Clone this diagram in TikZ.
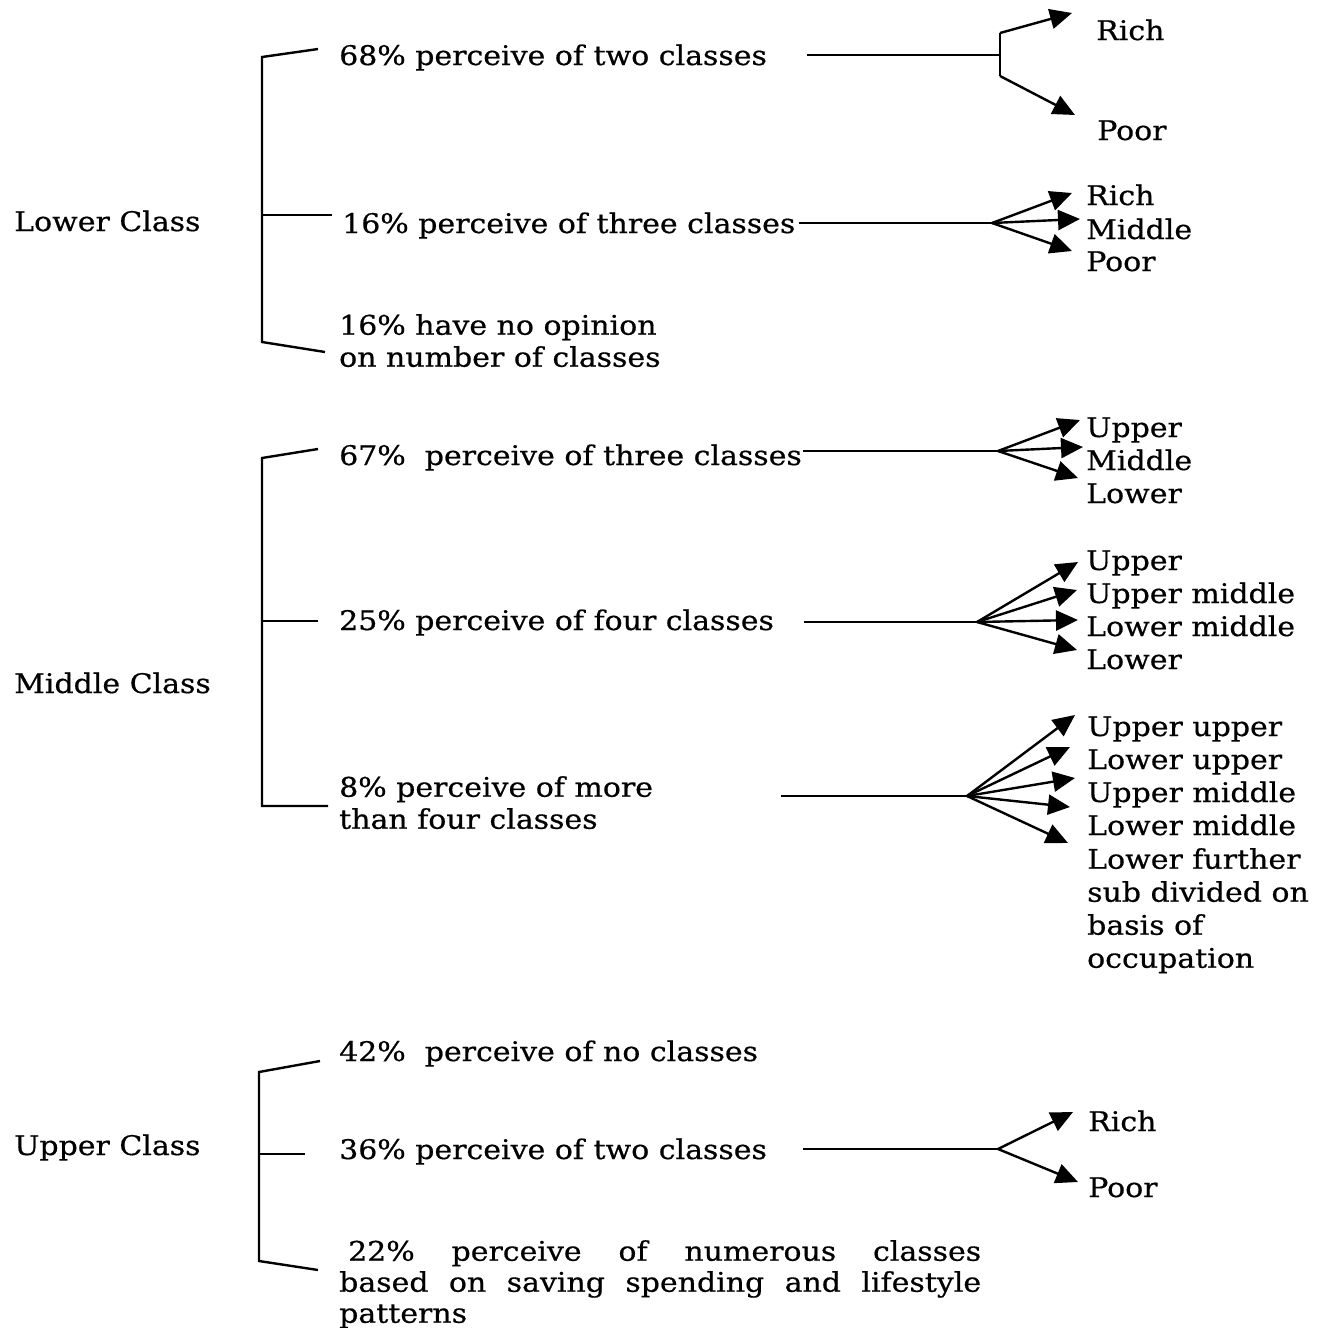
\documentclass[tikz,border=0pt]{standalone}
\usepackage{fontspec}
\setmainfont{DejaVu Serif}[FakeStretch=1.11,FakeBold=0.6]
\usetikzlibrary{arrows.meta}

\begin{document}
\begin{tikzpicture}[x=0.5pt,y=-0.5pt,line width=1.2pt,
        font=\fontsize{13.5}{16}\selectfont,
        txt/.style = {anchor=base west,inner sep=0pt},
        multi/.style = {anchor=north west,inner sep=0pt,align=left},
        arrow/.style = {line width=1.2pt,-{Triangle[length=11pt,width=10pt]}}]
    \useasboundingbox (0,0) rectangle (1334,1328);

    % the three classes
    \node[txt] (lower)  at (13,231)  {Lower Class};
    \node[txt] (middle) at (13,693)  {Middle Class};
    \node[txt] (upper)  at (13,1155) {Upper Class};

    % lower class
    \node[txt] (l1) at (338,65) {68\% perceive of two classes};
    \node[txt] (l2) at (341,233) {16\% perceive of three classes};
    \node[multi] (l3) at (338,313) {16\% have no opinion\\on number of classes};
    \node[txt] (l1a) at (1095,40)  {Rich};
    \node[txt] (l1b) at (1096,140) {Poor};
    \node[txt] (l2a) at (1085,205) {Rich};
    \node[txt] (l2b) at (1085,239) {Middle};
    \node[txt] (l2c) at (1085,271) {Poor};

    \coordinate (lt) at (262,57);
    \coordinate (lm) at (262,215);
    \coordinate (lb) at (262,342);
    \draw ([shift={(-20,-16)}]l1.base west) -- (lt) -- (lb)
        -- ([shift={(-13,39)}]l3.north west);
    \draw (lm) -- ([shift={(-9,-18)}]l2.base west);

    \coordinate (fl1) at (1000,55);
    \draw (fl1 -| l1.east) ++(39,0) -- (fl1);
    \draw ([yshift=11pt]fl1) coordinate (fl1a) -- ([yshift=-10.5pt]fl1) coordinate (fl1b);
    \draw[arrow] (fl1a) -- ([shift={(-23,-27)}]l1a.base west);
    \draw[arrow] (fl1b) -- ([shift={(-21,-25)}]l1b.base west);

    \coordinate (fl2) at (992,223);
    \draw (fl2 -| l2.east) ++(2,0) -- (fl2);
    \foreach \leaf/\dx/\dy in {l2a/-13/-12, l2b/-5/-20, l2c/-13/-20}
        \draw[arrow] (fl2) -- ([shift={(\dx,\dy)}]\leaf.base west);

    % middle class
    \node[txt] (m1) at (338,465) {67\%\ \ perceive of three classes};
    \node[txt] (m2) at (338,630) {25\% perceive of four classes};
    \node[multi] (m3) at (338,775) {8\% perceive of more\\than four classes};
    \node[txt] (m1a) at (1085,437) {Upper};
    \node[txt] (m1b) at (1085,470) {Middle};
    \node[txt] (m1c) at (1085,503) {Lower};
    \node[txt] (m2a) at (1085,570) {Upper};
    \node[txt] (m2b) at (1085,603) {Upper middle};
    \node[txt] (m2c) at (1085,636) {Lower middle};
    \node[txt] (m2d) at (1085,669) {Lower};
    \node[txt] (m3a) at (1086,736) {Upper upper};
    \node[txt] (m3b) at (1086,769) {Lower upper};
    \node[txt] (m3c) at (1086,802) {Upper middle};
    \node[txt] (m3d) at (1086,835) {Lower middle};
    \node[multi,font=\fontsize{13.5}{16.5}\selectfont] (m3e) at (1086,847)
        {Lower further\\sub divided on\\basis of\\occupation};

    \coordinate (mt) at (262,458);
    \coordinate (mm) at (262,621);
    \coordinate (mb) at (262,806);
    \draw ([shift={(-20,-16)}]m1.base west) -- (mt) -- (mb)
        -- ([shift={(-10,31)}]m3.north west);
    \draw (mm) -- ([shift={(-20,-9)}]m2.base west);

    \coordinate (fm1) at (998,451);
    \draw (fm1 -| m1.east) -- (fm1);
    \foreach \leaf/\dx/\dy in {m1a/-5/-17, m1b/-2/-23, m1c/-7/-25}
        \draw[arrow] (fm1) -- ([shift={(\dx,\dy)}]\leaf.base west);

    \coordinate (fm2) at (977,622);
    \draw (fm2 -| m2.east) ++(29,0) -- (fm2);
    \foreach \leaf/\dx/\dy in {m2a/-7/-8, m2b/-8/-13, m2c/-7/-16, m2d/-8/-19}
        \draw[arrow] (fm2) -- ([shift={(\dx,\dy)}]\leaf.base west);

    \coordinate (fm3) at (967,796);
    \draw (fm3 -| m3.east) ++(127,0) -- (fm3);
    \foreach \leaf/\dx/\dy in {m3a/-11/-21, m3b/-16/-22, m3c/-11/-24, m3d/-16/-28}
        \draw[arrow] (fm3) -- ([shift={(\dx,\dy)}]\leaf.base west);
    \draw[arrow] (fm3) -- ([shift={(-18,-4)}]m3e.north west);

    % upper class
    \node[txt] (u1) at (338,1061) {42\%\ \ perceive of no classes};
    \node[txt] (u2) at (338,1159) {36\% perceive of two classes};
    \node[multi,text width=321pt,align=justify,font=\fontsize{13.5}{15.5}\selectfont]
        (u3) at (338,1239) {\hspace*{4.5pt}22\% perceive of numerous classes\linebreak
        based on saving spending and lifestyle\linebreak patterns};
    \node[txt] (u2a) at (1087,1131) {Rich};
    \node[txt] (u2b) at (1087,1197) {Poor};

    \coordinate (ut) at (259,1072);
    \coordinate (um) at (259,1154);
    \coordinate (ub) at (259,1261);
    \draw ([shift={(-18,0)}]u1.base west) -- (ut) -- (ub)
        -- ([shift={(-20,31)}]u3.north west);
    \draw (um) -- ([shift={(-33,-5)}]u2.base west);

    \coordinate (fu2) at (998,1149);
    \draw (fu2 -| u2.east) ++(35,0) -- (fu2);
    \foreach \leaf/\dx/\dy in {u2a/-14/-19, u2b/-9/-15}
        \draw[arrow] (fu2) -- ([shift={(\dx,\dy)}]\leaf.base west);
\end{tikzpicture}
\end{document}
